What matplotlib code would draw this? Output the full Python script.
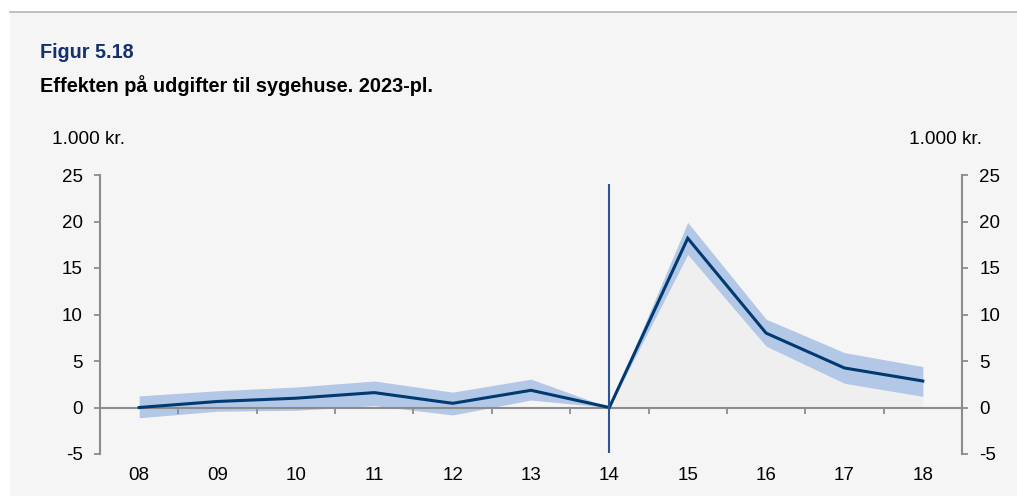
import matplotlib
matplotlib.use("Agg")
import matplotlib.pyplot as plt
from matplotlib.patches import Rectangle
from matplotlib.lines import Line2D

plt.rcParams['font.family'] = ['Liberation Sans', 'DejaVu Sans']

# Data (1.000 kr., 2023-pl.)
years = ["08", "09", "10", "11", "12", "13", "14", "15", "16", "17", "18"]
effect = [0.0, 0.65, 1.0, 1.6, 0.45, 1.85, 0.0, 18.2, 8.0, 4.25, 2.85]
upper = [1.25, 1.8, 2.2, 2.85, 1.65, 3.05, 0.0, 19.9, 9.5, 5.9, 4.4]
lower = [-1.1, -0.4, -0.3, 0.2, -0.8, 0.8, 0.0, 16.45, 6.6, 2.6, 1.2]
event_year = "14"
y_ticks = [-5, 0, 5, 10, 15, 20, 25]
vline_span = (-4.9, 24.0)

NAVY = "#003a70"
BAND = "#b3c7e7"
VLINE = "#2c5596"
GREY = "#8c8c8c"
BG = "#f5f5f5"

W, H = 1017, 496
fig = plt.figure(figsize=(W / 100, H / 100), dpi=100)
fig.patch.set_facecolor("white")

# panel background and top rule
fig.patches.append(Rectangle((10 / W, 0), 1 - 10 / W, 1 - 13 / H,
                             transform=fig.transFigure, facecolor=BG,
                             edgecolor="none", zorder=-5))
fig.lines.append(Line2D([10 / W, 1], [1 - 12 / H, 1 - 12 / H],
                        transform=fig.transFigure, color="#b4b4b4", lw=1.2,
                        zorder=-4))

fig.text(40 / W, 1 - 53 / H, "Figur 5.18", fontsize=14.2, fontweight="bold",
         color="#14306e", va="center", ha="left")
fig.text(40 / W, 1 - 86 / H, "Effekten på udgifter til sygehuse. 2023-pl.",
         fontsize=14.3, fontweight="bold", color="black", va="center", ha="left")

ax = fig.add_axes([100 / W, 42 / H, 862 / W, 279 / H])
ax.set_facecolor("none")

x = list(range(len(years)))
ev = years.index(event_year)

# post-period area under the estimate
ax.fill_between(x[ev:], [0] * (len(x) - ev), effect[ev:], color="#efefef",
                lw=0, zorder=0.5)
ax.fill_between(x, lower, upper, color=BAND, lw=0, zorder=1)
ax.plot(x, effect, color=NAVY, lw=2.2, zorder=3, solid_joinstyle="miter")
ax.vlines(ev, vline_span[0], vline_span[1], color=VLINE, lw=1.5, zorder=4)

ax.set_xlim(-0.5, len(years) - 0.5)
ax.set_ylim(y_ticks[0], y_ticks[-1])

ax.spines["top"].set_visible(False)
for s in ["left", "right", "bottom"]:
    ax.spines[s].set_color(GREY)
    ax.spines[s].set_linewidth(1.5)
ax.spines["bottom"].set_position(("data", 0))
ax.spines["bottom"].set_zorder(2)

ax.set_yticks(y_ticks)
ax.set_yticklabels([str(v) for v in y_ticks])
ax.tick_params(axis="y", which="both", left=True, right=True, labelleft=True,
               labelright=True, direction="out", length=4, width=1.3,
               color=GREY, labelsize=13.5, pad=8.5)

ax.set_xticks(x)
ax.set_xticklabels(years)
ax.set_xticks([i + 0.5 for i in x[:-1]], minor=True)
ax.tick_params(axis="x", which="major", length=0, labelsize=13.5, pad=43)
ax.tick_params(axis="x", which="minor", length=4, width=1.3, color=GREY,
               direction="out")

fig.text(52 / W, 1 - 139 / H, "1.000 kr.", fontsize=13.7, ha="left", va="center")
fig.text(982 / W, 1 - 139 / H, "1.000 kr.", fontsize=13.7, ha="right", va="center")

fig.savefig("out.png", dpi=100, facecolor=fig.get_facecolor())
